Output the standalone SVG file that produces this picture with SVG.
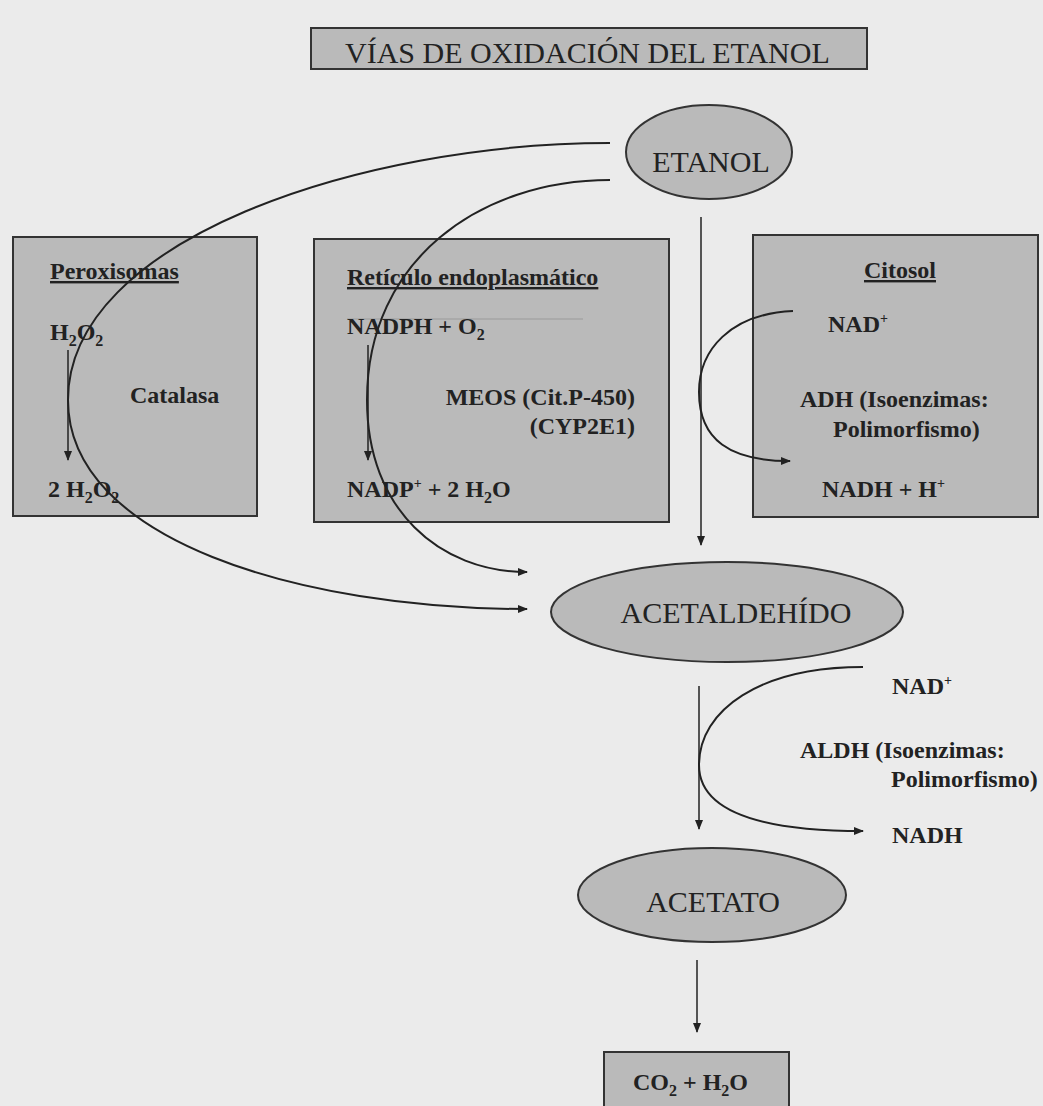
<svg xmlns="http://www.w3.org/2000/svg" width="1043" height="1106" viewBox="0 0 1043 1106">
<defs>
<marker id="ah" viewBox="0 0 10 10" refX="9" refY="5" markerWidth="10" markerHeight="10" markerUnits="userSpaceOnUse" orient="auto">
<path d="M0,1 L10,5 L0,9 Z" fill="#222"/>
</marker>
</defs>
<style>
.box{fill:#bababa;stroke:#333;stroke-width:2}
.ell{fill:#bababa;stroke:#333;stroke-width:2}
.big{font-family:"Liberation Serif",serif;font-size:30px;fill:#222}
.lbl{font-family:"Liberation Serif",serif;font-size:24px;font-weight:bold;fill:#222}
.u{text-decoration:underline}
.con{fill:none;stroke:#222;stroke-width:2}
.thin{fill:none;stroke:#222;stroke-width:1.5}
</style>
<rect width="1043" height="1106" fill="#ebebeb"/>

<g id="title">
<rect class="box" x="311" y="28" width="556" height="41"/>
<text class="big" x="345" y="63">VÍAS DE OXIDACIÓN DEL ETANOL</text>
</g>

<g id="etanol">
<ellipse class="ell" cx="709" cy="152" rx="83" ry="47"/>
<text class="big" x="711" y="172" text-anchor="middle">ETANOL</text>
</g>

<g id="peroxisomas">
<rect class="box" x="13" y="237" width="244" height="279"/>
<text class="lbl u" x="50" y="279">Peroxisomas</text>
<text class="lbl" x="50" y="340">H<tspan dy="6" font-size="16">2</tspan><tspan dy="-6">O</tspan><tspan dy="6" font-size="16">2</tspan></text>
<text class="lbl" x="130" y="403">Catalasa</text>
<text class="lbl" x="48" y="497">2 H<tspan dy="6" font-size="16">2</tspan><tspan dy="-6">O</tspan><tspan dy="6" font-size="16">2</tspan></text>
<line class="thin" x1="68" y1="350" x2="68" y2="460" marker-end="url(#ah)"/>
</g>

<g id="reticulo">
<rect class="box" x="314" y="239" width="355" height="283"/>
<text class="lbl u" x="347" y="285">Retículo endoplasmático</text>
<line x1="347" y1="319" x2="583" y2="319" stroke="#9a9a9a" stroke-width="1"/>
<text class="lbl" x="347" y="334">NADPH + O<tspan dy="6" font-size="16">2</tspan></text>
<text class="lbl" x="635" y="405" text-anchor="end">MEOS (Cit.P-450)</text>
<text class="lbl" x="635" y="434" text-anchor="end">(CYP2E1)</text>
<text class="lbl" x="347" y="497">NADP<tspan dy="-9" font-size="14">+</tspan><tspan dy="9"> + 2 H</tspan><tspan dy="6" font-size="16">2</tspan><tspan dy="-6">O</tspan></text>
<line class="thin" x1="368" y1="345" x2="368" y2="460" marker-end="url(#ah)"/>
</g>

<g id="citosol">
<rect class="box" x="753" y="235" width="285" height="282"/>
<text class="lbl u" x="900" y="278" text-anchor="middle">Citosol</text>
<text class="lbl" x="828" y="332">NAD<tspan dy="-9" font-size="14">+</tspan></text>
<text class="lbl" x="800" y="407">ADH (Isoenzimas:</text>
<text class="lbl" x="833" y="437">Polimorfismo)</text>
<text class="lbl" x="822" y="497">NADH + H<tspan dy="-9" font-size="14">+</tspan></text>
</g>

<g id="acetaldehido">
<ellipse class="ell" cx="727" cy="612" rx="176" ry="50"/>
<text class="big" x="736" y="623" text-anchor="middle">ACETALDEHÍDO</text>
</g>

<g id="aldh">
<text class="lbl" x="892" y="694">NAD<tspan dy="-9" font-size="14">+</tspan></text>
<text class="lbl" x="800" y="758">ALDH (Isoenzimas:</text>
<text class="lbl" x="891" y="787">Polimorfismo)</text>
<text class="lbl" x="892" y="843">NADH</text>
</g>

<g id="acetato">
<ellipse class="ell" cx="712" cy="895" rx="134" ry="47"/>
<text class="big" x="713" y="912" text-anchor="middle">ACETATO</text>
</g>

<g id="co2">
<rect class="box" x="604" y="1052" width="185" height="60"/>
<text class="lbl" x="633" y="1090">CO<tspan dy="6" font-size="16">2</tspan><tspan dy="-6"> + H</tspan><tspan dy="6" font-size="16">2</tspan><tspan dy="-6">O</tspan></text>
</g>

<g id="connectors">
<path class="con" d="M610,143 C360,143 68,240 68,400 C68,540 300,609 527,609" marker-end="url(#ah)"/>
<path class="con" d="M610,180 C480,180 367,260 367,400 C367,510 440,572 527,572" marker-end="url(#ah)"/>
<line class="thin" x1="701" y1="217" x2="701" y2="545" marker-end="url(#ah)"/>
<path class="con" d="M793,311 C730,314 699,350 699,392 C699,440 730,461 790,461" marker-end="url(#ah)"/>
<line class="thin" x1="699" y1="686" x2="699" y2="829" marker-end="url(#ah)"/>
<path class="con" d="M863,667 C760,667 699,710 699,765 C699,805 745,831 863,831" marker-end="url(#ah)"/>
<line class="thin" x1="697" y1="960" x2="697" y2="1032" marker-end="url(#ah)"/>
</g>
</svg>
